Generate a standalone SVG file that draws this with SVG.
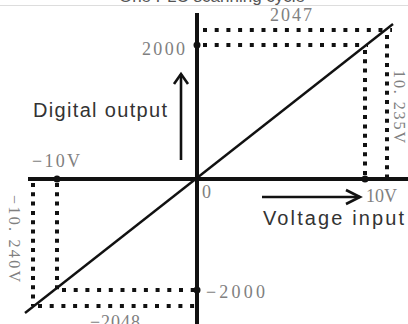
<svg xmlns="http://www.w3.org/2000/svg" width="408" height="324" viewBox="0 0 408 324">
<style>
.axis{stroke:#111;stroke-width:4;fill:none}
.diag{stroke:#111;stroke-width:2.4;fill:none}
.dh{stroke:#111;stroke-width:4;stroke-dasharray:4 7.7;fill:none}
.dv{stroke:#111;stroke-width:4;stroke-dasharray:4 5.3;fill:none}
.arr{stroke:#111;stroke-width:2.6;fill:none}
.num{font-family:"Liberation Serif",serif;font-size:18px;fill:#808080}
.rot{font-family:"Liberation Serif",serif;font-size:16px;fill:#808080}
.lab{font-family:"Liberation Sans",Arial,sans-serif;font-size:20px;fill:#333}
.dot{fill:#111}
</style>
<rect width="408" height="324" fill="#fff"/>
<line x1="0" y1="5.5" x2="408" y2="5.5" stroke="#ddd" stroke-width="1"/>
<text x="212" y="2" text-anchor="middle" font-family="Liberation Sans,Arial,sans-serif" font-size="17" fill="#555">One PLC scanning cycle</text>
<g id="connectors">
<line class="dh" x1="203" y1="30" x2="392" y2="30"/>
<line class="dh" x1="203" y1="45" x2="368" y2="45"/>
<line class="dv" x1="365" y1="50" x2="365" y2="178"/>
<line class="dv" x1="387" y1="35" x2="387" y2="178"/>
<line class="dv" x1="33" y1="183" x2="33" y2="306"/>
<line class="dv" x1="57" y1="183" x2="57" y2="290"/>
<line class="dh" x1="62" y1="290" x2="196" y2="290"/>
<line class="dh" x1="38" y1="306" x2="196" y2="306"/>
<line class="axis" x1="28" y1="179" x2="408" y2="179"/>
<line class="axis" x1="197" y1="13" x2="197" y2="324"/>
<line class="diag" x1="25" y1="313" x2="393" y2="24"/>
<circle class="dot" cx="197" cy="45" r="3.5"/>
<circle class="dot" cx="197" cy="290" r="3.5"/>
<circle class="dot" cx="57" cy="179" r="3.5"/>
<circle class="dot" cx="365" cy="179" r="3.5"/>
<line class="arr" x1="181" y1="160" x2="181" y2="74"/>
<polyline class="arr" points="174,84 181,74 188,84"/>
<line class="arr" x1="262" y1="197" x2="360" y2="197"/>
<polyline class="arr" points="346,190 360,197 346,204"/>
</g>
<g id="labels">
<text class="num" x="270" y="21" textLength="42">2047</text>
<text class="num" x="142" y="55" textLength="43">2000</text>
<text class="num" x="32" y="167" textLength="48">−10V</text>
<text class="num" x="366" y="202" textLength="31">10V</text>
<text class="num" x="202" y="198">0</text>
<text class="num" x="206" y="298" textLength="59">−2000</text>
<text class="num" x="90" y="328" textLength="50">−2048</text>
<text class="rot" transform="translate(9,195) rotate(90)" textLength="87">−10. 240V</text>
<text class="rot" transform="translate(394,70) rotate(90)" textLength="73">10. 235V</text>
<text class="lab" x="33" y="117" textLength="134">Digital output</text>
<text class="lab" x="263" y="225" textLength="141">Voltage input</text>
</g>
</svg>
